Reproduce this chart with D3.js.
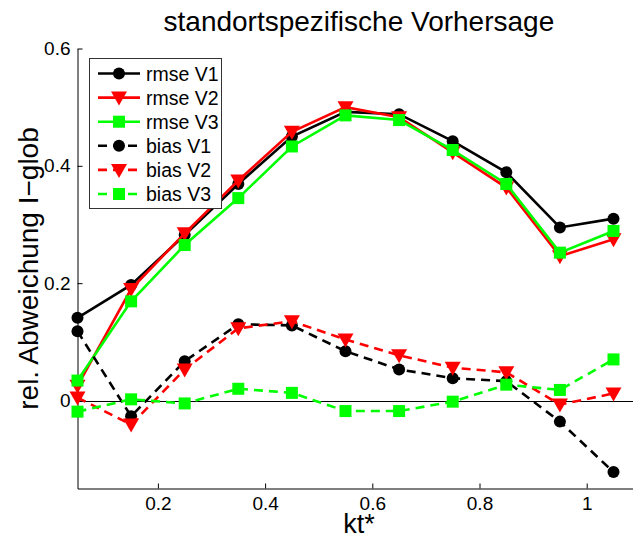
<!DOCTYPE html>
<html>
<head>
<meta charset="utf-8">
<script src="https://cdn.jsdelivr.net/npm/d3@7"></script>
<style>
  body { margin: 0; background: #fff; }
  svg { display: block; font-family: "Liberation Sans", Arial, sans-serif; }
</style>
</head>
<body>
<div class="container"></div>
<script>
var kt = [0.05, 0.15, 0.25, 0.35, 0.45, 0.55, 0.65, 0.75, 0.85, 0.95, 1.05];

var rmseV1 = [0.141, 0.197, 0.282, 0.369, 0.450, 0.492, 0.488, 0.442, 0.389, 0.295, 0.310];
var rmseV2 = [0.025, 0.190, 0.285, 0.375, 0.458, 0.500, 0.483, 0.423, 0.363, 0.246, 0.275];
var rmseV3 = [0.034, 0.169, 0.265, 0.345, 0.433, 0.486, 0.478, 0.427, 0.369, 0.252, 0.289];
var biasV1 = [0.118, -0.027, 0.067, 0.130, 0.128, 0.084, 0.053, 0.038, 0.033, -0.036, -0.122];
var biasV2 = [0.005, -0.041, 0.053, 0.123, 0.135, 0.104, 0.077, 0.056, 0.048, -0.007, 0.012];
var biasV3 = [-0.019, 0.002, -0.005, 0.020, 0.013, -0.018, -0.018, -0.002, 0.027, 0.018, 0.070];

var seriesNames = ["rmse V1", "rmse V2", "rmse V3", "bias V1", "bias V2", "bias V3"];
var xTicks = [0.2, 0.4, 0.6, 0.8, 1];
var yTicks = [0, 0.2, 0.4, 0.6];

var width = 633, height = 538;
var plotLeft = 77.5, plotTop = 48.5, plotBottom = 488.5;

var series = [
    {name: seriesNames[0], values: rmseV1, color: "#000000", marker: "circle", dash: null},
    {name: seriesNames[1], values: rmseV2, color: "#ff0000", marker: "triangle", dash: null},
    {name: seriesNames[2], values: rmseV3, color: "#00ff00", marker: "square", dash: null},
    {name: seriesNames[3], values: biasV1, color: "#000000", marker: "circle", dash: "9,6"},
    {name: seriesNames[4], values: biasV2, color: "#ff0000", marker: "triangle", dash: "9,6"},
    {name: seriesNames[5], values: biasV3, color: "#00ff00", marker: "square", dash: "9,6"}
];

var svg = d3.select(".container")
    .append("svg")
    .attr("width", width)
    .attr("height", height);

var x = d3.scaleLinear().domain([0.05, 1.1]).range([plotLeft, plotLeft + 1.05 * 536]);
var y = d3.scaleLinear().domain([-0.15, 0.6]).range([plotBottom, plotTop]);
var midX = (x(0.05) + x(1.1)) / 2;

// title and axis labels
svg.append("text")
    .attr("x", midX)
    .attr("y", 31)
    .attr("text-anchor", "middle")
    .style("font-size", "28px")
    .text("standortspezifische Vorhersage");

svg.append("text")
    .attr("x", midX)
    .attr("y", 533)
    .attr("text-anchor", "middle")
    .style("font-size", "27px")
    .text("kt*");

svg.append("text")
    .attr("transform", "translate(38," + ((plotTop + plotBottom) / 2) + ") rotate(-90)")
    .attr("text-anchor", "middle")
    .style("font-size", "28px")
    .text("rel. Abweichung I\u2212glob");

// axes, ticks point inwards like matlab
var xAxis = d3.axisBottom(x).tickValues(xTicks).tickSizeInner(-5).tickSizeOuter(0)
    .tickPadding(8).tickFormat(d3.format("~g"));
var yAxis = d3.axisLeft(y).tickValues(yTicks).tickSizeInner(-5).tickSizeOuter(0)
    .tickPadding(7).tickFormat(d3.format("~g"));

var gx = svg.append("g").attr("transform", "translate(0," + plotBottom + ")").call(xAxis);
var gy = svg.append("g").attr("transform", "translate(" + plotLeft + ",0)").call(yAxis);
[gx, gy].forEach(function (g) {
    g.selectAll("text").style("font-size", "19px").attr("fill", "#000");
    g.selectAll("line, path").attr("stroke", "#000");
    g.select(".domain").attr("stroke-width", 1);
});

// zero line
svg.append("line")
    .attr("x1", x(0.05)).attr("x2", x(1.1))
    .attr("y1", Math.round(y(0)) + 0.5).attr("y2", Math.round(y(0)) + 0.5)
    .attr("stroke", "#000")
    .attr("stroke-width", 1);

function drawMarker(g, type, color, cx, cy) {
    if (type === "circle") {
        g.append("circle").attr("cx", cx).attr("cy", cy).attr("r", 6).attr("fill", color);
    } else if (type === "square") {
        g.append("rect").attr("x", cx - 6).attr("y", cy - 6)
            .attr("width", 12).attr("height", 12).attr("fill", color);
    } else {
        g.append("path")
            .attr("d", "M" + (cx - 8) + "," + (cy - 6) + "L" + (cx + 8) + "," + (cy - 6) + "L" + cx + "," + (cy + 8) + "Z")
            .attr("fill", color);
    }
}

var line = d3.line()
    .x(function (d, i) { return x(kt[i]); })
    .y(function (d) { return y(d); });

series.forEach(function (s) {
    var g = svg.append("g");
    g.append("path")
        .attr("d", line(s.values))
        .attr("fill", "none")
        .attr("stroke", s.color)
        .attr("stroke-width", 2.6)
        .attr("stroke-dasharray", s.dash);
    s.values.forEach(function (v, i) {
        drawMarker(g, s.marker, s.color, x(kt[i]), y(v));
    });
});

// legend
var legend = svg.append("g");
legend.append("rect")
    .attr("x", 89.5).attr("y", 58.5)
    .attr("width", 132).attr("height", 150)
    .attr("fill", "#fff")
    .attr("stroke", "#333")
    .attr("stroke-width", 1);

series.forEach(function (s, i) {
    var ly = 73.5 + i * 24.1;
    legend.append("line")
        .attr("x1", 98).attr("x2", 140)
        .attr("y1", ly).attr("y2", ly)
        .attr("stroke", s.color)
        .attr("stroke-width", 2.6)
        .attr("stroke-dasharray", s.dash);
    drawMarker(legend, s.marker, s.color, 119, ly);
    legend.append("text")
        .attr("x", 146)
        .attr("y", ly + 7)
        .style("font-size", "19.5px")
        .text(s.name);
});
</script>
</body>
</html>
